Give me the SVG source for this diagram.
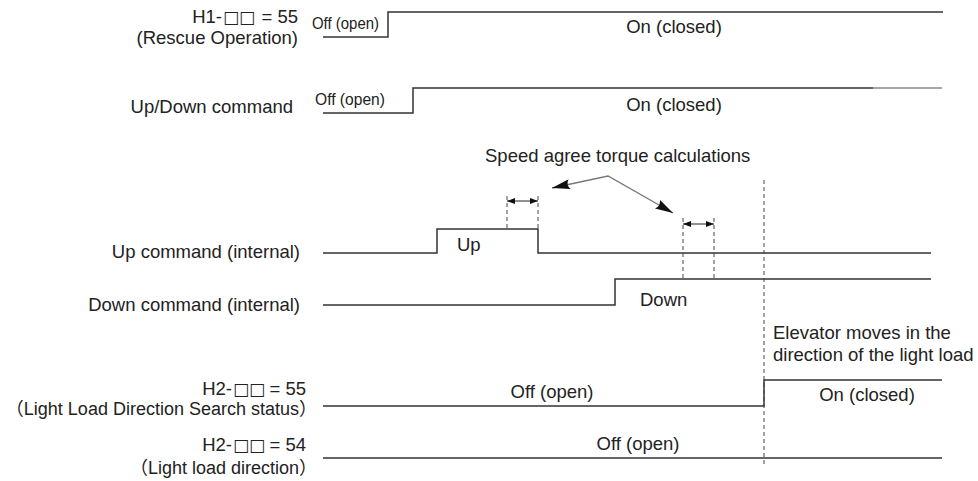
<svg xmlns="http://www.w3.org/2000/svg" width="978" height="481" viewBox="0 0 978 481">
<style>
text{font-family:"Liberation Sans",Arial,"Noto Sans CJK JP",sans-serif;font-size:18.5px;fill:#222}
.sq{font-family:"DejaVu Sans",sans-serif;font-size:17px;fill:#222}
.cond{font-size:17px}
.sm{font-size:18px}
.mid{text-anchor:middle}
.end{text-anchor:end}
.sig{fill:none;stroke:#333;stroke-width:1.5}
.dash{fill:none;stroke:#444;stroke-width:1;stroke-dasharray:4 3}
.dim{fill:none;stroke:#222;stroke-width:1}
.big{fill:none;stroke:#777;stroke-width:1.3}
</style>
<defs>
<marker id="bigHead" viewBox="0 0 18 10" refX="18" refY="5" markerWidth="18" markerHeight="10" markerUnits="userSpaceOnUse" orient="auto-start-reverse">
<path d="M0,0 L18,5 L0,10 Q4,5 0,0 Z" fill="#111"/>
</marker>
<marker id="dimHead" viewBox="0 0 8 6" refX="8" refY="3" markerWidth="8" markerHeight="6" markerUnits="userSpaceOnUse" orient="auto-start-reverse">
<path d="M0,0 L8,3 L0,6 Z" fill="#111"/>
</marker>
</defs>

<g id="h1-rescue">
<text class="end" x="222" y="23">H1-</text>
<text class="sq" x="223" y="23">□□</text>
<text class="end" x="298" y="23">= 55</text>
<text class="end" x="298" y="44">(Rescue Operation)</text>
<polyline class="sig" points="323,37 388,37 388,12 943,12"/>
<text class="cond" x="312" y="29" textLength="67" lengthAdjust="spacingAndGlyphs">Off (open)</text>
<text class="mid" x="674" y="33">On (closed)</text>
</g>

<g id="updown-command">
<text class="end" x="293" y="113">Up/Down command</text>
<polyline class="sig" points="323,113 413,113 413,88 873,88"/>
<line x1="873" y1="88" x2="942" y2="88" stroke="#888" stroke-width="1.3"/>
<text class="cond" x="315" y="105" textLength="70" lengthAdjust="spacingAndGlyphs">Off (open)</text>
<text class="mid" x="674" y="111">On (closed)</text>
</g>

<g id="speed-agree-note">
<text x="485" y="162">Speed agree torque calculations</text>
</g>

<g id="up-internal">
<text class="end" x="300" y="258">Up command (internal)</text>
<polyline class="sig" points="323,253 437,253 437,229 538,229 538,253 931,253"/>
<text x="457" y="251">Up</text>
</g>

<g id="down-internal">
<text class="end" x="300" y="311">Down command (internal)</text>
<polyline class="sig" points="323,305 615,305 615,279 931,279"/>
<text x="640" y="306">Down</text>
</g>

<g id="elevator-note">
<text x="773" y="339">Elevator moves in the</text>
<text x="773" y="361">direction of the light load</text>
</g>

<g id="h2-55">
<text class="end" x="232" y="395">H2-</text>
<text class="sq" x="233" y="395">□□</text>
<text class="end" x="306" y="395">= 55</text>
<text class="end sm" x="317" y="415">（Light Load Direction Search status）</text>
<polyline class="sig" points="323,406 764,406 764,380 942,380"/>
<text class="mid" x="552" y="398">Off (open)</text>
<text class="mid" x="867" y="401">On (closed)</text>
</g>

<g id="h2-54">
<text class="end" x="232" y="451">H2-</text>
<text class="sq" x="233" y="451">□□</text>
<text class="end" x="306" y="451">= 54</text>
<text class="end sm" x="317" y="474">（Light load direction）</text>
<line class="sig" x1="323" y1="458" x2="942" y2="458"/>
<text class="mid" x="638" y="450">Off (open)</text>
</g>

<g id="connectors">
<line class="dash" x1="764" y1="180" x2="764" y2="466"/>
<line class="dash" x1="507" y1="196" x2="507" y2="229"/>
<line class="dash" x1="538" y1="196" x2="538" y2="229"/>
<line class="dash" x1="683" y1="218" x2="683" y2="279"/>
<line class="dash" x1="714" y1="218" x2="714" y2="279"/>
<line class="dim" x1="507" y1="201" x2="538" y2="201" marker-start="url(#dimHead)" marker-end="url(#dimHead)"/>
<line class="dim" x1="683" y1="224" x2="714" y2="224" marker-start="url(#dimHead)" marker-end="url(#dimHead)"/>
<polyline class="big" points="552,188 608,176 673,213" marker-start="url(#bigHead)" marker-end="url(#bigHead)"/>
</g>
</svg>
